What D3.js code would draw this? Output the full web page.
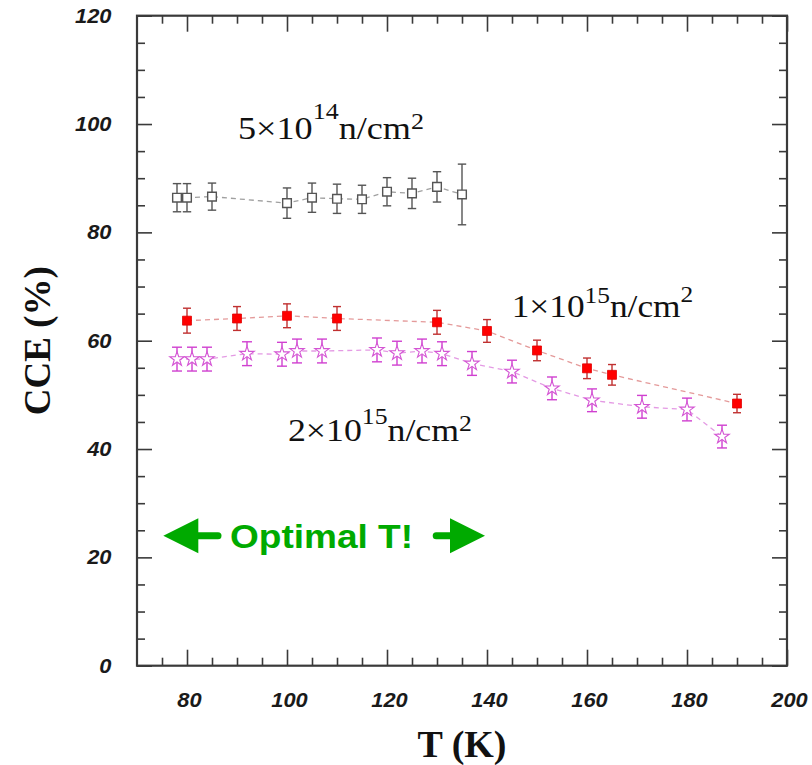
<!DOCTYPE html>
<html><head><meta charset="utf-8">
<script src="https://cdn.jsdelivr.net/npm/d3@7"></script>
<style>body{margin:0;background:#fff}svg{display:block}</style>
</head><body><svg id="c" width="812" height="765"></svg>
<script>
// ---- data ----
const temps1 = [78, 80, 85, 100, 105, 110, 115, 120, 125, 130, 135];
const cce1   = [86.4, 86.4, 86.6, 85.4, 86.4, 86.2, 86.1, 87.5, 87.2, 88.4, 87.0];
const err1   = [2.6, 2.6, 2.5, 2.8, 2.7, 2.7, 2.6, 2.6, 2.8, 2.8, 5.6];

const temps2 = [80, 90, 100, 110, 130, 140, 150, 160, 165, 190];
const cce2   = [63.7, 64.1, 64.6, 64.1, 63.4, 61.8, 58.2, 54.9, 53.7, 48.4];
const err2   = [2.3, 2.2, 2.2, 2.2, 2.2, 2.1, 1.9, 1.9, 1.9, 1.7];

const temps3 = [78, 81, 84, 92, 99, 102, 107, 118, 122, 127, 131, 137, 145, 153, 161, 171, 180, 187];
const cce3   = [56.6, 56.6, 56.6, 57.6, 57.5, 58.1, 58.1, 58.3, 57.7, 58.1, 57.6, 55.8, 54.3, 51.2, 49.0, 47.8, 47.3, 42.3];
const err3   = [2.2, 2.2, 2.2, 2.2, 2.2, 2.2, 2.2, 2.2, 2.2, 2.2, 2.2, 2.2, 2.1, 2.1, 2.1, 2.1, 2.1, 2.1];

const xMajorTicks = [80, 100, 120, 140, 160, 180, 200];
const xMinorTicks = [75, 85, 90, 95, 105, 110, 115, 125, 130, 135, 145, 150, 155, 165, 170, 175, 185, 190, 195];
const yMajorTicks = [0, 20, 40, 60, 80, 100, 120];
const yMinorTicks = [5, 10, 15, 25, 30, 35, 45, 50, 55, 65, 70, 75, 85, 90, 95, 105, 110, 115];

const labelBases = ["5\u00d710", "1\u00d710", "2\u00d710"];
const labelExps  = ["14", "15", "15"];
const xTitle = "T (K)";
const yTitle = "CCE (%)";
const noteText = "Optimal T!";

// ---- layout ----
const L = 137, R = 787, T = 15.7, B = 665.7;
const x = d3.scaleLinear().domain([70, 200]).range([L, R]);
const y = d3.scaleLinear().domain([0, 120]).range([B, T]);
const svg = d3.select("#c");
svg.append("rect").attr("width", 812).attr("height", 765).attr("fill", "#fff");

const axisColor = "#3a3a3a";
const tickScale = 1.12;
function cleanAxis(g) {
  g.select(".domain").remove();
  g.selectAll(".tick line").attr("stroke", axisColor).attr("stroke-width", 1.6);
}
function styleTickText(sel) {
  sel.attr("transform", `scale(${tickScale},1)`)
    .attr("font-family", "Liberation Sans, Arial, sans-serif").attr("font-weight", "bold")
    .attr("font-style", "italic").attr("font-size", 19.5).attr("fill", "#1a1a1a");
}
// bottom
const gxMaj = svg.append("g").attr("transform", `translate(0,${B})`)
  .call(d3.axisBottom(x).tickValues(xMajorTicks).tickSize(-16).tickFormat(d3.format("d")));
cleanAxis(gxMaj);
gxMaj.selectAll("text").attr("y", 41).attr("dy", 0).attr("x", 2 / tickScale).call(styleTickText);
const gxMin = svg.append("g").attr("transform", `translate(0,${B})`)
  .call(d3.axisBottom(x).tickValues(xMinorTicks).tickSize(-8).tickFormat(""));
cleanAxis(gxMin);
// top
const gtMaj = svg.append("g").attr("transform", `translate(0,${T})`)
  .call(d3.axisTop(x).tickValues(xMajorTicks).tickSize(-16).tickFormat(""));
cleanAxis(gtMaj);
const gtMin = svg.append("g").attr("transform", `translate(0,${T})`)
  .call(d3.axisTop(x).tickValues(xMinorTicks).tickSize(-8).tickFormat(""));
cleanAxis(gtMin);
// left
const gyMaj = svg.append("g").attr("transform", `translate(${L},0)`)
  .call(d3.axisLeft(y).tickValues(yMajorTicks).tickSize(-15).tickFormat(d3.format("d")));
cleanAxis(gyMaj);
gyMaj.selectAll("text").attr("x", -25.5 / tickScale).attr("dy", "0.33em").call(styleTickText);
const gyMin = svg.append("g").attr("transform", `translate(${L},0)`)
  .call(d3.axisLeft(y).tickValues(yMinorTicks).tickSize(-8).tickFormat(""));
cleanAxis(gyMin);
// right
const grMaj = svg.append("g").attr("transform", `translate(${R},0)`)
  .call(d3.axisRight(y).tickValues(yMajorTicks).tickSize(-15).tickFormat(""));
cleanAxis(grMaj);
const grMin = svg.append("g").attr("transform", `translate(${R},0)`)
  .call(d3.axisRight(y).tickValues(yMinorTicks).tickSize(-8).tickFormat(""));
cleanAxis(grMin);

// frame
svg.append("rect").attr("x", L).attr("y", T).attr("width", R - L).attr("height", B - T)
  .attr("fill", "none").attr("stroke", axisColor).attr("stroke-width", 2.2);

// axis titles
svg.append("text").attr("x", (L + R) / 2).attr("y", 757).attr("text-anchor", "middle")
  .attr("font-family", "Liberation Serif, Times New Roman, serif").attr("font-weight", "bold")
  .attr("font-size", 38).attr("fill", "#111").text(xTitle);
svg.append("text").attr("transform", `translate(50,${(T + B) / 2}) rotate(-90)`).attr("text-anchor", "middle")
  .attr("font-family", "Liberation Serif, Times New Roman, serif").attr("font-weight", "bold")
  .attr("font-size", 37).attr("fill", "#111").text(yTitle);

// ---- series ----
function series(temps, vals, errs, cfg) {
  const pts = temps.map((t, i) => ({ t, v: vals[i], e: errs[i] }));
  svg.append("path").datum(pts)
    .attr("d", d3.line().x(d => x(d.t)).y(d => y(d.v)))
    .attr("fill", "none").attr("stroke", cfg.line).attr("stroke-width", 1.3)
    .attr("stroke-dasharray", "5,4");
  const g = svg.append("g");
  const eb = g.selectAll("g.eb").data(pts).join("g").attr("stroke", cfg.err).attr("stroke-width", 1.4);
  eb.append("line").attr("x1", d => x(d.t)).attr("x2", d => x(d.t))
    .attr("y1", d => y(d.v - d.e)).attr("y2", d => y(d.v + d.e));
  [-1, 1].forEach(s => {
    eb.append("line").attr("x1", d => x(d.t) - cfg.cap).attr("x2", d => x(d.t) + cfg.cap)
      .attr("y1", d => y(d.v + s * d.e)).attr("y2", d => y(d.v + s * d.e));
  });
  g.selectAll("path.m").data(pts).join("path")
    .attr("transform", d => `translate(${x(d.t)},${y(d.v)})`)
    .attr("d", d3.symbol().type(cfg.sym).size(cfg.size))
    .attr("fill", cfg.fill).attr("stroke", cfg.stroke).attr("stroke-width", cfg.sw);
}
series(temps1, cce1, err1, { line: "#a0a0a0", err: "#555", cap: 4.2, sym: d3.symbolSquare, size: 75, fill: "#fff", stroke: "#555", sw: 1.4 });
series(temps3, cce3, err3, { line: "#e49ae4", err: "#d040d0", cap: 5, sym: d3.symbolStar, size: 65, fill: "#fff", stroke: "#d455d4", sw: 1.1 });
series(temps2, cce2, err2, { line: "#e49a9a", err: "#c03030", cap: 4, sym: d3.symbolSquare, size: 80, fill: "#ff0000", stroke: "#e00000", sw: 0.8 });

// ---- fluence labels ----
const labelCfg = [
  { x: 238, y: 139, supDy: -20, sup2Dy: -10, width: 186 },
  { x: 511.7, y: 316.7, supDy: -14, sup2Dy: -15, width: 181.6 },
  { x: 288, y: 441, supDy: -17, sup2Dy: -10, width: 184 }
];
labelBases.forEach((b, i) => {
  const c = labelCfg[i];
  const t = svg.append("text").attr("x", c.x).attr("y", c.y)
    .attr("font-family", "Liberation Serif, Times New Roman, serif").attr("font-size", 32).attr("fill", "#111");
  t.append("tspan").text(b);
  t.append("tspan").attr("dy", c.supDy).attr("font-size", 23).text(labelExps[i]);
  t.append("tspan").attr("dy", -c.supDy).attr("font-size", 32).text("n/cm");
  t.append("tspan").attr("dy", c.sup2Dy).attr("font-size", 23).text("2");
  const w = t.node().getComputedTextLength();
  const s = c.width / w;
  t.attr("transform", `translate(${c.x},0) scale(${s},1) translate(${-c.x},0)`);
});

// ---- Optimal T annotation ----
const green = "#00aa00";
const cy = 535.8;
svg.append("line").attr("x1", 195).attr("x2", 218).attr("y1", cy).attr("y2", cy)
  .attr("stroke", green).attr("stroke-width", 7).attr("stroke-linecap", "round");
svg.append("path").attr("d", `M163.3,${cy} L198.3,${cy - 17.5} L198.3,${cy + 17.5} Z`).attr("fill", green);
svg.append("line").attr("x1", 436.2).attr("x2", 455).attr("y1", cy).attr("y2", cy)
  .attr("stroke", green).attr("stroke-width", 7).attr("stroke-linecap", "round");
svg.append("path").attr("d", `M485,${cy} L450,${cy - 17.5} L450,${cy + 17.5} Z`).attr("fill", green);
svg.append("text").attr("x", 230).attr("y", 547.5)
  .attr("font-family", "Liberation Sans, Arial, sans-serif").attr("font-weight", "bold")
  .attr("font-size", 34).attr("fill", green)
  .attr("textLength", 183).attr("lengthAdjust", "spacingAndGlyphs").text(noteText);
</script></body></html>
